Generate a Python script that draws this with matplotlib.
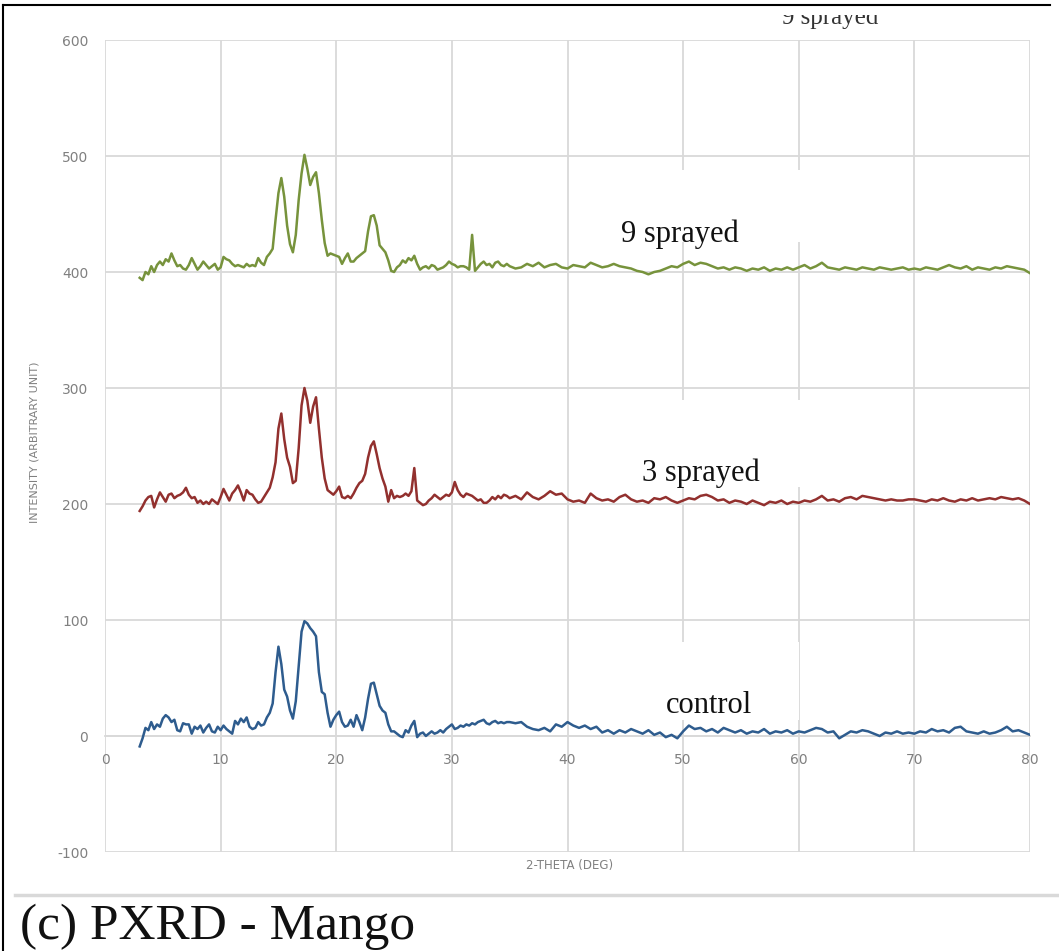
import numpy as np
import matplotlib
matplotlib.use("Agg")
import matplotlib.pyplot as plt
from matplotlib.patches import Rectangle
from matplotlib.lines import Line2D

plt.rcParams["axes.unicode_minus"] = False

# 2-theta sampling: 0.25 deg steps up to 35, then 0.5 deg steps to 80
two_theta = np.concatenate([np.arange(3, 35, 0.25), np.arange(35, 80.01, 0.5)])

# intensities (3.0 - 34.75 deg, 0.25 step)
control_low = [
    -9, -2, 7, 5, 12, 6, 10, 8,
    15, 18, 16, 12, 14, 5, 4, 11,
    10, 10, 2, 8, 6, 9, 3, 7,
    10, 4, 3, 8, 5, 9, 6, 4,
    2, 13, 10, 15, 12, 16, 8, 6,
    7, 12, 9, 10, 16, 20, 28, 55,
    77, 62, 40, 34, 22, 15, 30, 60,
    90, 99, 97, 93, 90, 86, 55, 38,
    36, 20, 8, 14, 18, 21, 12, 8,
    9, 14, 8, 18, 12, 5, 16, 32,
    45, 46, 36, 26, 22, 20, 10, 4,
    4, 2, 0, -1, 5, 3, 9, 13,
    -1, 2, 3, 0, 2, 4, 2, 3,
    5, 3, 6, 8, 10, 6, 7, 9,
    8, 10, 9, 11, 10, 12, 13, 14,
    11, 10, 12, 13, 11, 12, 11, 12,
]
sprayed3_low = [
    194, 198, 203, 206, 207, 197, 204, 210,
    206, 202, 208, 209, 205, 207, 208, 210,
    214, 208, 205, 206, 201, 203, 200, 202,
    200, 204, 202, 200, 206, 213, 208, 203,
    209, 212, 216, 210, 203, 212, 209, 208,
    204, 201, 202, 206, 210, 214, 223, 236,
    265, 278, 256, 240, 232, 218, 220, 248,
    285, 300, 289, 270, 284, 292, 265, 240,
    222, 212, 210, 208, 211, 215, 206, 205,
    207, 205, 209, 214, 218, 220, 226, 240,
    250, 254, 243, 231, 222, 215, 202, 212,
    205, 207, 206, 207, 209, 207, 211, 231,
    203, 201, 199, 200, 203, 205, 208, 206,
    204, 206, 208, 207, 210, 219, 212, 208,
    206, 209, 208, 207, 205, 203, 204, 201,
    201, 203, 206, 204, 207, 205, 208, 207,
]
sprayed9_low = [
    395, 393, 400, 398, 405, 400, 406, 409,
    406, 411, 409, 416, 410, 405, 406, 403,
    402, 406, 412, 407, 402, 405, 409, 406,
    403, 405, 407, 402, 404, 413, 411, 410,
    407, 405, 406, 405, 404, 407, 405, 406,
    405, 412, 408, 406, 413, 416, 420, 445,
    468, 481, 465, 440, 424, 417, 432, 462,
    485, 501, 489, 475, 482, 486, 468, 445,
    425, 414, 416, 415, 414, 413, 407, 412,
    416, 409, 409, 412, 414, 416, 418, 435,
    448, 449, 440, 423, 420, 417, 410, 401,
    400, 404, 406, 410, 408, 412, 410, 414,
    407, 402, 404, 405, 403, 406, 405, 402,
    403, 404, 406, 409, 407, 406, 404, 405,
    405, 404, 402, 432, 401, 404, 407, 409,
    406, 407, 404, 408, 409, 406, 405, 407,
]

# 35 - 80 deg, 0.5 step
control_high = [
    12, 11, 12, 8, 6, 5, 7, 4, 10, 8,
    12, 9, 7, 9, 6, 8, 3, 5, 2, 5,
    3, 6, 4, 2, 5, 1, 3, -1, 1, -2,
    4, 9, 6, 7, 4, 6, 3, 7, 5, 3,
    5, 2, 4, 3, 6, 2, 4, 3, 5, 2,
    4, 3, 5, 7, 6, 3, 4, -2, 1, 4,
    3, 5, 4, 2, 0, 3, 2, 4, 2, 3,
    2, 4, 3, 6, 4, 5, 3, 7, 8, 4,
    3, 2, 4, 2, 3, 5, 8, 4, 5, 3,
    1,
]
sprayed3_high = [
    205, 207, 204, 210, 206, 204, 207, 211, 208, 209,
    204, 202, 203, 201, 209, 205, 203, 204, 202, 206,
    208, 204, 202, 203, 201, 205, 204, 206, 203, 201,
    203, 205, 204, 207, 208, 206, 203, 204, 201, 203,
    202, 200, 203, 201, 199, 202, 201, 203, 200, 202,
    201, 203, 202, 204, 207, 203, 204, 202, 205, 206,
    204, 207, 206, 205, 204, 203, 204, 203, 203, 204,
    204, 203, 202, 204, 203, 205, 203, 202, 204, 203,
    205, 203, 204, 205, 204, 206, 205, 204, 205, 203,
    200,
]
sprayed9_high = [
    405, 403, 404, 407, 405, 408, 404, 406, 407, 404,
    403, 406, 405, 404, 408, 406, 404, 405, 407, 405,
    404, 403, 401, 400, 398, 400, 401, 403, 405, 404,
    407, 409, 406, 408, 407, 405, 403, 404, 402, 404,
    403, 401, 403, 402, 404, 401, 403, 402, 404, 402,
    404, 406, 403, 405, 408, 404, 403, 402, 404, 403,
    402, 404, 403, 402, 404, 403, 402, 403, 404, 402,
    403, 402, 404, 403, 402, 404, 406, 404, 403, 405,
    402, 404, 403, 402, 404, 403, 405, 404, 403, 402,
    399,
]

control = control_low + control_high
sprayed3 = sprayed3_low + sprayed3_high
sprayed9 = sprayed9_low + sprayed9_high

series_names = ["control", "3 sprayed", "9 sprayed"]
series_colors = ["#2e5c8e", "#92302e", "#77933c"]
label_pos = [(52.2, 20), (51.5, 220), (49.7, 426)]
# white boxes that hide the gridlines behind the pasted labels (x0, x1, y0, y1)
label_boxes = [(44, 60, 14, 81), (44, 62, 215, 290), (44, 62, 426, 488)]

xticks = list(range(0, 81, 10))
yticks = list(range(-100, 601, 100))

W, H = 1059, 951
fig = plt.figure(figsize=(W / 100, H / 100), dpi=100)
ax = fig.add_axes([105 / W, 1 - 852 / H, 925 / W, 812 / H])

grid_c = "#d9d9d9"
tick_c = "#808080"
ax.set_xlim(0, 80)
ax.set_ylim(-100, 600)
ax.set_xticks(xticks)
ax.set_yticks(yticks)
ax.grid(True, color=grid_c, lw=1.3)
ax.set_axisbelow(True)
for side in ["top", "right", "left"]:
    ax.spines[side].set_visible(False)
ax.spines["bottom"].set_position(("data", 0))
ax.spines["bottom"].set_color(grid_c)
ax.spines["bottom"].set_linewidth(1.3)
ax.tick_params(axis="x", length=0, pad=12, labelsize=10, labelcolor=tick_c)
ax.tick_params(axis="y", length=0, pad=12, labelsize=10, labelcolor=tick_c)

for (x0, x1, y0, y1) in label_boxes:
    ax.add_patch(Rectangle((x0, y0), x1 - x0, y1 - y0, fc="white", ec="none", zorder=1.5))

for ys, c in zip([control, sprayed3, sprayed9], series_colors):
    ax.plot(two_theta, ys, color=c, lw=1.8, zorder=3)

for name, (lx, ly) in zip(series_names, label_pos):
    ax.text(lx, ly, name, ha="center", va="baseline", fontsize=22,
            family="Liberation Serif", color="#111111", zorder=4)

fig.text(570 / W, 1 - 866 / H, "2-THETA (DEG)", ha="center", va="center",
         fontsize=8.5, color=tick_c)
fig.text(35 / W, 1 - 442 / H, "INTENSITY (ARBITRARY UNIT)", ha="center", va="center",
         rotation=90, fontsize=8, color=tick_c)

# cropped remains of a label at the very top of the scan (only its lower half shows)
fig.text(830 / W, 1 - 24 / H, "9 sprayed", ha="center", va="baseline",
         fontsize=18, family="Liberation Serif", color="#333333", zorder=3)
fig.add_artist(Rectangle((0, 1 - 15 / H), 1, 15 / H, transform=fig.transFigure,
                         fc="white", ec="none", zorder=5))

# frame lines and caption of the scanned figure
fig.add_artist(Line2D([3 / W, 3 / W], [0, 1 - 5 / H], color="black", lw=1.5, zorder=6))
fig.add_artist(Line2D([3 / W, 1050 / W], [1 - 5 / H, 1 - 5 / H], color="black", lw=1.5, zorder=6))
fig.add_artist(Line2D([15 / W, 1], [1 - 895 / H, 1 - 895 / H], color="#d9d9d9", lw=2.5))
fig.text(20 / W, 1 - 939 / H, "(c) PXRD - Mango", ha="left", va="baseline",
         fontsize=37, family="Liberation Serif", color="#111111")

fig.savefig("out.png", dpi=100)
